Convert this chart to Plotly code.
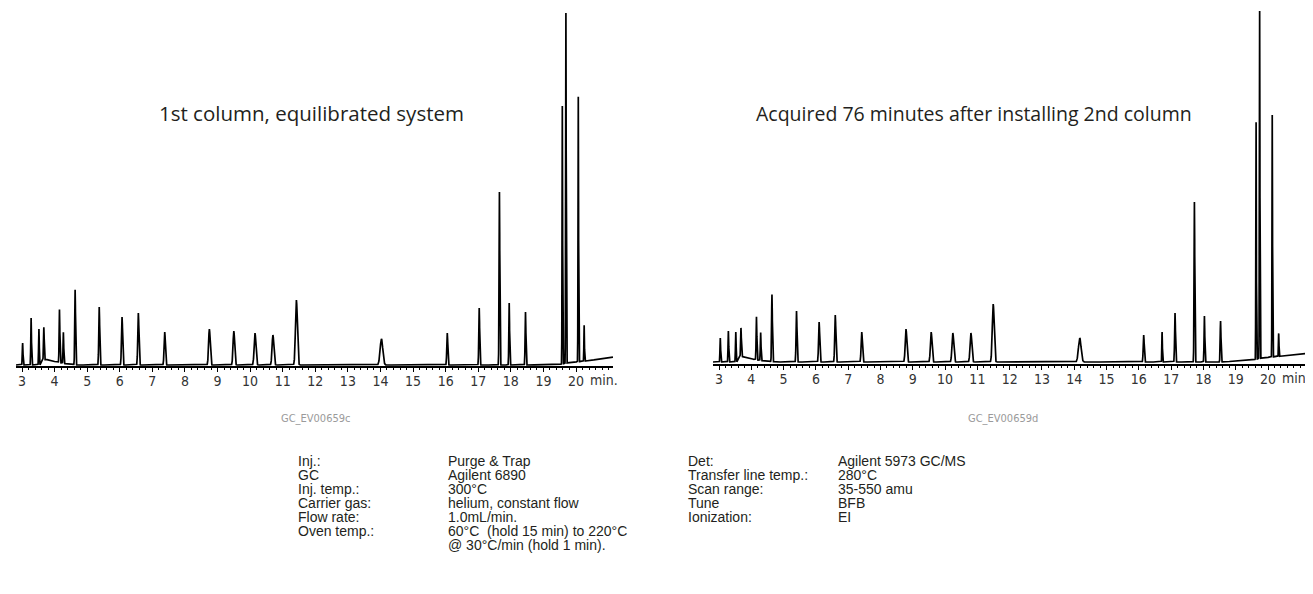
import numpy as np
import plotly.graph_objects as go

# ---------------- data ----------------
# Left chromatogram: 1st column, equilibrated system
left_times = [3.02, 3.28, 3.52, 3.67, 4.15, 4.27, 4.63, 5.37, 6.07, 6.57, 7.38,
              8.75, 9.50, 10.15, 10.70, 11.42, 14.03, 16.05, 17.03, 17.65, 17.95,
              18.45, 19.58, 19.69, 20.07, 20.25]
left_heights = [22, 47, 36, 33, 53, 31, 75, 58, 48, 52, 33,
                36, 34, 32, 30, 65, 26, 32, 57, 173, 62,
                53, 258, 352, 265, 36]
left_widths = [0.010, 0.010, 0.010, 0.011, 0.011, 0.010, 0.012, 0.014, 0.017, 0.017, 0.019,
               0.024, 0.024, 0.026, 0.026, 0.028, 0.040, 0.015, 0.013, 0.011, 0.011,
               0.012, 0.008, 0.008, 0.008, 0.008]
left_base_t = [2.80, 3.55, 3.62, 3.72, 3.85, 4.00, 4.30, 4.60, 4.80, 18.60, 19.50, 19.56, 19.80, 20.30, 21.15]
left_base_y = [0.0, 0.0, 4.0, 5.5, 5.0, 3.5, 1.5, 0.3, 0.0, 0.0, 0.3, 1.0, 2.5, 4.0, 8.0]

# Right chromatogram: acquired 76 minutes after installing 2nd column
right_times = [3.04, 3.29, 3.52, 3.68, 4.16, 4.29, 4.64, 5.40, 6.10, 6.60, 7.42,
               8.79, 9.57, 10.24, 10.80, 11.49, 14.17, 16.15, 16.72, 17.12, 17.72,
               18.03, 18.53, 19.63, 19.74, 20.13, 20.33]
right_heights = [24, 31, 30, 29, 43, 28, 67, 51, 40, 47, 30,
                 33, 30, 29, 29, 58, 24, 27, 30, 49, 160,
                 46, 41, 237, 350, 242, 23]
right_widths = [0.010, 0.010, 0.010, 0.011, 0.011, 0.010, 0.012, 0.014, 0.017, 0.017, 0.019,
                0.024, 0.024, 0.026, 0.026, 0.028, 0.040, 0.015, 0.008, 0.013, 0.011,
                0.011, 0.012, 0.008, 0.008, 0.008, 0.008]
right_base_t = [2.78, 3.55, 3.62, 3.72, 3.90, 4.10, 4.40, 4.80, 18.50, 19.50, 19.58, 19.80, 20.30, 21.35]
right_base_y = [0.0, 0.0, 4.5, 5.5, 4.0, 2.5, 1.0, 0.0, 0.0, 1.7, 2.5, 4.0, 5.5, 9.0]

tick_vals = list(range(3, 21))
tick_text = [str(v) for v in tick_vals]

left_title = "1st column, equilibrated system"
right_title = "Acquired 76 minutes after installing 2nd column"
left_code = "GC_EV00659c"
right_code = "GC_EV00659d"

cond_labels = ["Inj.:", "GC", "Inj. temp.:", "Carrier gas:", "Flow rate:", "Oven temp.:", ""]
cond_values = ["Purge & Trap", "Agilent 6890", "300°C", "helium, constant flow",
               "1.0mL/min.", "60°C  (hold 15 min) to 220°C", "@ 30°C/min (hold 1 min)."]
det_labels = ["Det:", "Transfer line temp.:", "Scan range:", "Tune", "Ionization:"]
det_values = ["Agilent 5973 GC/MS", "280°C", "35-550 amu", "BFB", "EI"]


# ---------------- build traces ----------------
def trace_signal(times, heights, widths, bt, by, t0, t1):
    t = np.arange(t0, t1, 0.002)
    y = np.interp(t, bt, by)
    for c, h, s in zip(times, heights, widths):
        y = y + h * np.exp(-0.5 * ((t - c) / s) ** 2)
    return t, y


W, H = 1313, 594
LX = [2.816, 21.135]
RX = [2.814, 21.33]

lt, ly = trace_signal(left_times, left_heights, left_widths, left_base_t, left_base_y, LX[0], LX[1])
rt, ry = trace_signal(right_times, right_heights, right_widths, right_base_t, right_base_y, RX[0], RX[1])

fig = go.Figure()
fig.add_trace(go.Scatter(x=lt, y=ly, mode="lines", line=dict(color="black", width=1.7),
                         xaxis="x", yaxis="y", hoverinfo="skip", showlegend=False))
fig.add_trace(go.Scatter(x=rt, y=ry, mode="lines", line=dict(color="black", width=1.7),
                         xaxis="x2", yaxis="y2", hoverinfo="skip", showlegend=False))


def px_x(p):
    return p / W


def px_y(p):
    return 1 - p / H


tick_font = dict(family="DejaVu Sans Condensed, Liberation Sans, sans-serif",
                 size=14, color="#333333")

xcommon = dict(showline=True, linecolor="black", linewidth=1.5, ticks="outside", ticklen=4,
               tickwidth=1, tickcolor="black", showgrid=False, zeroline=False,
               tickmode="array", tickvals=tick_vals, ticktext=tick_text, tickfont=tick_font,
               ticklabelstandoff=-3,
               minor=dict(ticks="outside", ticklen=2.5, tickwidth=1, tickcolor="black",
                          dtick=0.2, tick0=0, showgrid=False),
               fixedrange=True)

fig.update_layout(
    width=W, height=H,
    margin=dict(l=0, r=0, t=0, b=0),
    paper_bgcolor="white", plot_bgcolor="white",
    xaxis=dict(domain=[px_x(8), px_x(605)], range=LX, anchor="y", **xcommon),
    yaxis=dict(domain=[px_y(358), px_y(5)], range=[-1, 352], visible=False, fixedrange=True),
    xaxis2=dict(domain=[px_x(705), px_x(1303)], range=RX, anchor="y2", **xcommon),
    yaxis2=dict(domain=[px_y(356), px_y(3)], range=[-2, 351], visible=False, fixedrange=True),
)

ann = []
# "min." unit labels after the 20 tick
for xp, yp in ((580, 372), (1272, 370)):
    ann.append(dict(x=px_x(xp), y=px_y(yp), xref="paper", yref="paper", text="min.",
                    showarrow=False, xanchor="left", yanchor="middle", font=tick_font))

ann.append(dict(x=px_x(303), y=px_y(105), xref="paper", yref="paper", text=left_title,
                showarrow=False, xanchor="center", yanchor="middle",
                font=dict(family="Open Sans, Noto Sans, sans-serif", size=20.5, color="#231f20")))
ann.append(dict(x=px_x(966), y=px_y(105), xref="paper", yref="paper", text=right_title,
                showarrow=False, xanchor="center", yanchor="middle",
                font=dict(family="Open Sans, Noto Sans, sans-serif", size=19.5, color="#231f20")))

code_font = dict(family="DejaVu Sans Condensed, Liberation Sans, sans-serif", size=11, color="#9a9a9a")
ann.append(dict(x=px_x(307), y=px_y(410), xref="paper", yref="paper", text=left_code,
                showarrow=False, xanchor="center", yanchor="middle", font=code_font))
ann.append(dict(x=px_x(995), y=px_y(410), xref="paper", yref="paper", text=right_code,
                showarrow=False, xanchor="center", yanchor="middle", font=code_font))

info_font = dict(family="Liberation Sans, Arial, sans-serif", size=14, color="#231f20")
row0, dy = 453, 14.0
for i, (lab, val) in enumerate(zip(cond_labels, cond_values)):
    yy = px_y(row0 + i * dy)
    if lab:
        ann.append(dict(x=px_x(288), y=yy, xref="paper", yref="paper", text=lab,
                        showarrow=False, xanchor="left", yanchor="middle", font=info_font))
    ann.append(dict(x=px_x(438), y=yy, xref="paper", yref="paper", text=val,
                    showarrow=False, xanchor="left", yanchor="middle", font=info_font))
for i, (lab, val) in enumerate(zip(det_labels, det_values)):
    yy = px_y(row0 + i * dy)
    ann.append(dict(x=px_x(678), y=yy, xref="paper", yref="paper", text=lab,
                    showarrow=False, xanchor="left", yanchor="middle", font=info_font))
    ann.append(dict(x=px_x(828), y=yy, xref="paper", yref="paper", text=val,
                    showarrow=False, xanchor="left", yanchor="middle", font=info_font))

fig.update_layout(annotations=ann)
fig.write_html("out.html")
